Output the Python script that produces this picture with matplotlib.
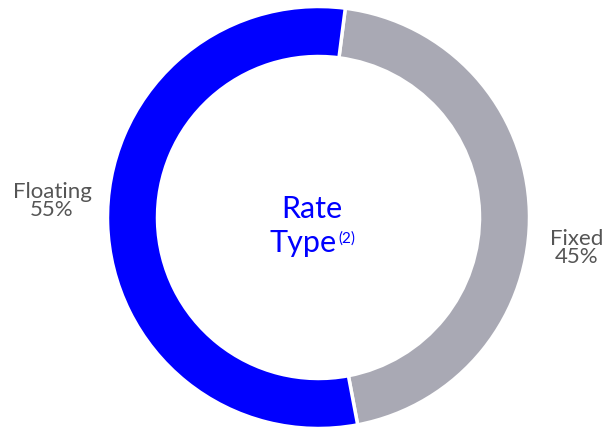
import matplotlib.pyplot as plt

# share of rate type
labels = ["Fixed", "Floating"]
shares = [45, 55]
colors = ["#a9a9b4", "#0000ff"]

W, H = 605, 429

fig = plt.figure(figsize=(W / 100, H / 100), dpi=100)
ax = fig.add_axes([0, 0, 1, 1])

cx, cy, r = 318.5, H - 217.5, 211

ax.pie(
    shares,
    colors=colors,
    startangle=82.7,
    counterclock=False,
    center=(cx, cy),
    radius=r,
    wedgeprops=dict(width=50, edgecolor="white", linewidth=2.5),
    frame=False,
)
ax.set_xlim(0, W)
ax.set_ylim(0, H)
ax.set_aspect("equal")
ax.axis("off")

font = "Lato"
grey = "#555555"

# slice labels
ax.text(52, H - 201, f"{labels[1]}\n{shares[1]}%", ha="center", va="center",
        fontsize=16, color=grey, family=font, linespacing=0.92)
ax.text(577, H - 248, f"{labels[0]}\n{shares[0]}%", ha="center", va="center",
        fontsize=16, color=grey, family=font, linespacing=0.92)

# centre title
ax.text(312, H - 218, "Rate", ha="center", va="baseline",
        fontsize=22, color="#0000ff", family=font)
ax.text(337, H - 252, "Type", ha="right", va="baseline",
        fontsize=22, color="#0000ff", family=font)
ax.text(338, H - 243, "(2)", ha="left", va="baseline",
        fontsize=11, color="#0000ff", family=font)

plt.savefig("out.png", dpi=100)
